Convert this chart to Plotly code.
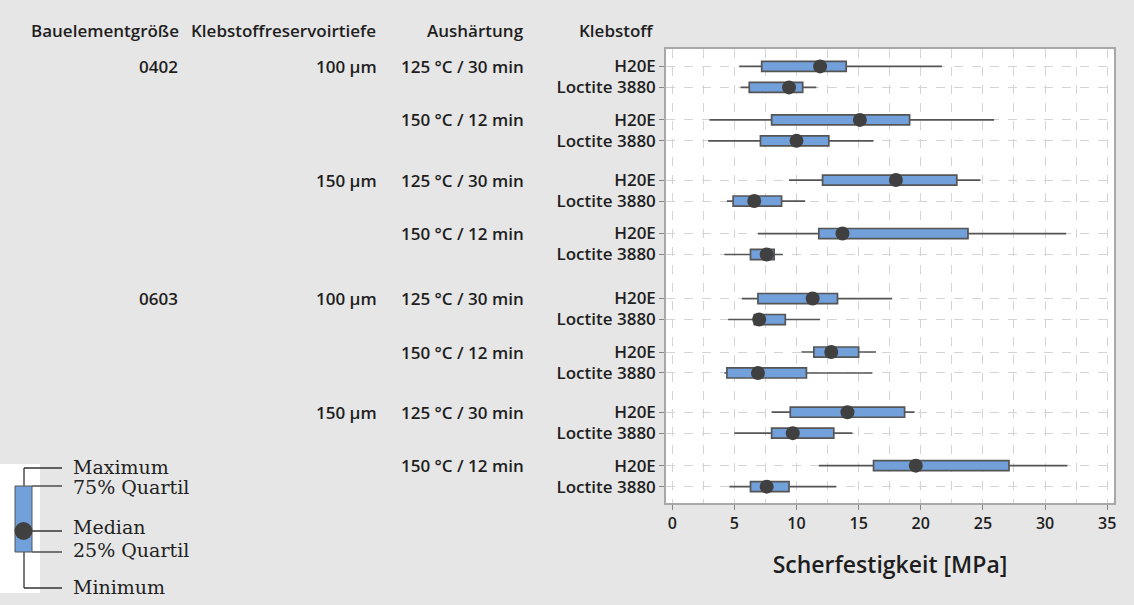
import plotly.graph_objects as go

# Factor levels per row (top to bottom)
bauelement = ["0402"] * 8 + ["0603"] * 8
reservoir = (["100 µm"] * 4 + ["150 µm"] * 4) * 2
aushaertung = (["125 °C / 30 min"] * 2 + ["150 °C / 12 min"] * 2) * 4
klebstoff = ["H20E", "Loctite 3880"] * 8

# Shear strength statistics [MPa]
minimum = [5.4, 5.5, 3.0, 2.9, 9.4, 4.4, 6.9, 4.2, 5.6, 4.5, 10.4, 4.2, 8.0, 5.0, 11.8, 4.6]
q1 = [7.2, 6.2, 8.0, 7.1, 12.1, 4.9, 11.8, 6.3, 6.9, 6.6, 11.4, 4.4, 9.5, 8.0, 16.2, 6.3]
median = [11.9, 9.4, 15.1, 10.0, 18.0, 6.6, 13.7, 7.6, 11.3, 7.0, 12.8, 6.9, 14.1, 9.7, 19.6, 7.6]
q3 = [14.0, 10.5, 19.1, 12.6, 22.9, 8.8, 23.8, 8.2, 13.3, 9.1, 15.0, 10.8, 18.7, 13.0, 27.1, 9.4]
maximum = [21.7, 11.6, 25.9, 16.2, 24.8, 10.7, 31.7, 8.9, 17.7, 11.9, 16.4, 16.1, 19.5, 14.5, 31.8, 13.2]

x_ticks = [0, 5, 10, 15, 20, 25, 30, 35]

# Row positions: larger gaps between higher-level groups
GAP_PAIR, GAP_AUS, GAP_RES, GAP_BAU = 1.0, 1.55, 1.87, 2.1
pos = [0.0]
for i in range(1, len(klebstoff)):
    if bauelement[i] != bauelement[i - 1]:
        step = GAP_BAU
    elif reservoir[i] != reservoir[i - 1]:
        step = GAP_RES
    elif aushaertung[i] != aushaertung[i - 1]:
        step = GAP_AUS
    else:
        step = GAP_PAIR
    pos.append(pos[-1] + step)

W, H = 1134, 605
L, R, T, B = 666, 20, 49, 102
PW, PH = W - L - R, H - T - B


def px(x):
    return (x - L) / PW


def py(y):
    return (H - B - y) / PH


TEXT = "#1e1e1e"
FONT = "Open Sans"
LABEL_FONT = dict(family=FONT, size=17, color=TEXT, weight=600)

fig = go.Figure()

fig.add_trace(go.Box(
    y=pos, q1=q1, median=median, q3=q3,
    lowerfence=minimum, upperfence=maximum,
    orientation="h", width=0.48, whiskerwidth=0,
    fillcolor="#72a0da", line=dict(color="#555555", width=1.7),
    boxpoints=False, showlegend=False, hoverinfo="skip",
))

fig.add_trace(go.Scatter(
    x=median, y=pos, mode="markers",
    marker=dict(size=14, color="#404040"),
    showlegend=False, hoverinfo="skip",
))

annotations = []
# Column headers
headers = [("Bauelementgröße", 181), ("Klebstoffreservoirtiefe", 378),
           ("Aushärtung", 526), ("Klebstoff", 656)]
for txt, xr in headers:
    annotations.append(dict(
        text=txt, x=px(xr), y=py(30), xref="paper", yref="paper",
        xanchor="right", yanchor="middle", showarrow=False, font=LABEL_FONT,
    ))

# Group labels shown at the first row of each group
for i in range(len(klebstoff)):
    new_b = i == 0 or bauelement[i] != bauelement[i - 1]
    new_r = new_b or reservoir[i] != reservoir[i - 1]
    new_a = new_r or aushaertung[i] != aushaertung[i - 1]
    for flag, txt, xr in ((new_b, bauelement[i], 180),
                          (new_r, reservoir[i], 379),
                          (new_a, aushaertung[i], 526)):
        if flag:
            annotations.append(dict(
                text=txt, x=px(xr), y=pos[i], xref="paper", yref="y",
                xanchor="right", yanchor="middle", showarrow=False,
                font=LABEL_FONT,
            ))

# Key explaining the box symbol
SERIF = dict(family="DejaVu Serif", size=19, color="#222222")
key_labels = [("Maximum", 467), ("75% Quartil", 487), ("Median", 527),
              ("25% Quartil", 550), ("Minimum", 587)]
for txt, yy in key_labels:
    annotations.append(dict(
        text=txt, x=px(71), y=py(yy), xref="paper", yref="paper",
        xanchor="left", yanchor="middle", showarrow=False, font=SERIF,
    ))

shapes = []
shapes.append(dict(type="rect", xref="paper", yref="paper",
                   x0=px(0), x1=px(40), y0=py(464), y1=py(593),
                   fillcolor="white", line=dict(width=0), layer="below"))
kl = dict(color="#333333", width=1.3)
for x0, x1, y0, y1 in [(24, 24, 468, 486), (24, 24, 552, 588),
                       (24, 62, 468, 468), (32, 62, 486, 486),
                       (24, 62, 531, 531), (32, 62, 552, 552),
                       (24, 62, 588, 588)]:
    shapes.append(dict(type="line", xref="paper", yref="paper",
                       x0=px(x0), x1=px(x1), y0=py(y0), y1=py(y1), line=kl))
shapes.append(dict(type="rect", xref="paper", yref="paper",
                   x0=px(15), x1=px(32), y0=py(486), y1=py(552),
                   fillcolor="#72a0da", line=dict(color="#555555", width=1)))
shapes.append(dict(type="circle", xref="paper", yref="paper",
                   x0=px(14.5), x1=px(32.5), y0=py(522), y1=py(540),
                   fillcolor="#404040", line=dict(width=0)))

GRID = "#d4d4d4"
fig.update_layout(
    width=W, height=H,
    margin=dict(l=L, r=R, t=T, b=B),
    paper_bgcolor="#e6e6e6", plot_bgcolor="white",
    annotations=annotations, shapes=shapes,
    xaxis=dict(
        range=[-0.5, 35.55], tickvals=x_ticks, ticks="outside", ticklen=5,
        tickcolor="#888888", showline=True, linecolor="#a8a8a8", linewidth=1.5,
        mirror=True, showgrid=True, gridcolor=GRID, griddash="dash",
        zeroline=False,
        minor=dict(dtick=2.5, tick0=0, showgrid=True, gridcolor=GRID,
                   griddash="dash", ticklen=0),
        tickfont=dict(family=FONT, size=16, color=TEXT, weight=600),
        title=dict(text="Scherfestigkeit [MPa]", standoff=24,
                   font=dict(family=FONT, size=23, color=TEXT, weight=600)),
    ),
    yaxis=dict(
        range=[pos[-1] + 0.78, -0.83], tickvals=pos, ticktext=klebstoff,
        ticks="outside", ticklen=5, tickcolor="#888888",
        showline=True, linecolor="#a8a8a8", linewidth=1.5, mirror=True,
        showgrid=True, gridcolor=GRID, griddash="dash", zeroline=False,
        tickfont=LABEL_FONT,
    ),
)

fig.write_html("out.html")
